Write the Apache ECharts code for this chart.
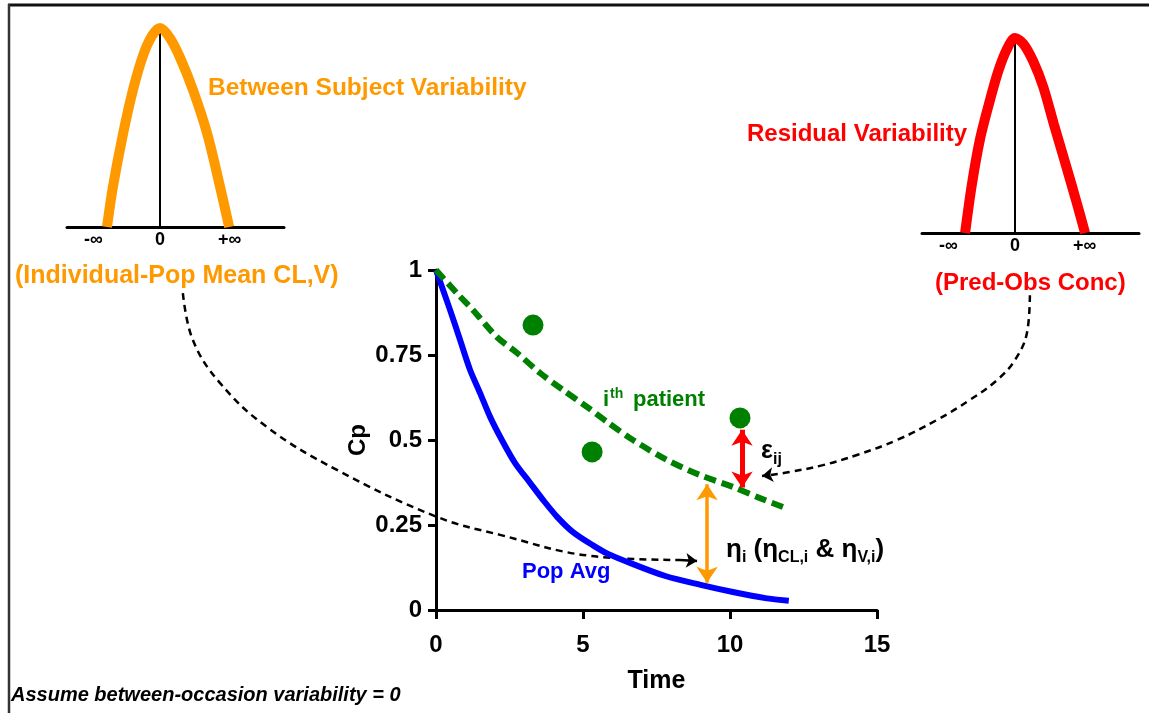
<!DOCTYPE html>
<html>
<head>
<meta charset="utf-8">
<script src="https://cdn.jsdelivr.net/npm/echarts@6/dist/echarts.min.js"></script>
<style>
html,body{margin:0;padding:0;background:#fff;}
#chart{width:1149px;height:713px;}
</style>
</head>
<body>
<div id="chart"></div>
<script>
// ---------- Data ----------
// Main plot: concentration (Cp) vs Time
const popAvgTime = [0, 0.48, 0.82, 1.16, 1.5, 1.84, 2.24, 2.69, 3.2, 3.64, 4.12, 4.66, 5.34, 5.85, 6.7, 7.8, 9.0, 10.1, 11.2, 12.0];
const popAvgCp   = [1, 0.882, 0.794, 0.706, 0.638, 0.568, 0.5, 0.432, 0.374, 0.324, 0.274, 0.229, 0.19, 0.165, 0.135, 0.1, 0.074, 0.053, 0.035, 0.027];

const patientTime = [0, 0.71, 1.26, 2.07, 2.76, 3.54, 4.32, 5.14, 5.82, 6.7, 7.86, 8.98, 10.1, 11.02, 11.8];
const patientCp   = [1, 0.932, 0.882, 0.803, 0.756, 0.697, 0.647, 0.597, 0.553, 0.5, 0.441, 0.397, 0.362, 0.329, 0.303];

const obsTime = [3.3, 5.31, 10.34];
const obsCp   = [0.838, 0.465, 0.565];

// Variability arrows (time, Cp from, Cp to)
const epsArrow = [10.41, 0.53, 0.36];
const etaArrow = [9.22, 0.37, 0.08];

// Dashed connector curves (in main-plot Time / Cp units)
const bsvConnTime = [-8.61, -8.27, -7.35, -5.75, -3.37, 0.03, 2.18, 5.27, 8.3];
const bsvConnCp   = [0.932, 0.794, 0.668, 0.538, 0.412, 0.274, 0.221, 0.159, 0.147];
const bsvConnTip  = [8.88, 0.144];
const rvConnTime  = [20.2, 20.1, 19.69, 19.08, 18.16, 17.04, 15.68, 14.32, 13.16, 12.04, 11.36];
const rvConnCp    = [0.926, 0.815, 0.735, 0.676, 0.618, 0.559, 0.5, 0.456, 0.426, 0.406, 0.397];
const rvConnTip   = [11.09, 0.394];

// Bell curves (x in sd-like units, y relative to peak)
const bsvBellX = [-1.71, -1.52, -1.19, -0.87, -0.55, -0.26, 0, 0.32, 0.65, 1.06, 1.52, 1.94, 2.23];
const bsvBellY = [0, 0.20, 0.47, 0.69, 0.86, 0.96, 1, 0.95, 0.85, 0.69, 0.47, 0.20, 0];
const rvBellX  = [-1.61, -1.40, -1.13, -0.81, -0.54, -0.27, 0, 0.27, 0.59, 0.91, 1.25, 1.62, 2.0, 2.26];
const rvBellY  = [0, 0.24, 0.48, 0.68, 0.83, 0.94, 1, 0.97, 0.88, 0.75, 0.56, 0.36, 0.15, 0];
const bellTickValues = [-2.15, 0, 2.25];
const bellTickLabels = ['-∞', '0', '+∞'];

// Axis ticks
const timeMin = 0, timeMax = 15, timeStep = 5;
const cpMin = 0, cpMax = 1, cpStep = 0.25;

// ---------- Layout ----------
const W = 1149, H = 713;
const MAIN = {left: 436, top: 270, width: 441, height: 340};
const pxPerTime = MAIN.width / (timeMax - timeMin);
const pxPerCp = MAIN.height / (cpMax - cpMin);
// overlay grid sharing the main plot's scale, covering the whole canvas
const ovXMin = timeMin - MAIN.left / pxPerTime;
const ovXMax = timeMin + (W - MAIN.left) / pxPerTime;
const ovYMin = cpMin - (H - MAIN.top - MAIN.height) / pxPerCp;
const ovYMax = cpMin + (MAIN.top + MAIN.height) / pxPerCp;

// ---------- Helpers ----------
const zip = (a, b) => a.map((v, i) => [v, b[i]]);
const FONT = 'Liberation Sans';
const ORANGE = '#ff9900', RED = '#ff0000', GREEN = '#008000', BLUE = '#0000ff';

const chart = echarts.init(document.getElementById('chart'), null, {renderer: 'canvas'});

function bellAxisLabel(v) {
  const i = bellTickValues.indexOf(v);
  return i >= 0 ? bellTickLabels[i] : '';
}
function txt(x, y, text, color, size, extra) {
  return Object.assign({type: 'text', x: x, y: y, style: {
    text: text, fill: color, fontFamily: FONT, fontWeight: 'bold', fontSize: size,
    textVerticalAlign: 'middle', verticalAlign: 'middle'
  }}, extra || {});
}

const hiddenAxis = {show: false, axisLine: {show: false}, axisTick: {show: false}, axisLabel: {show: false}, splitLine: {show: false}};

const option = {
  animation: false,
  backgroundColor: '#ffffff',
  textStyle: {fontFamily: FONT},
  grid: [
    MAIN,                                             // main
    {left: 67, top: 28, width: 217, height: 199},     // BSV bell
    {left: 922, top: 38, width: 217, height: 195},    // RV bell
    {left: 0, top: 0, width: W, height: H}            // overlay for connectors
  ],
  xAxis: [
    {
      gridIndex: 0, type: 'value', min: timeMin, max: timeMax, interval: timeStep,
      name: 'Time', nameLocation: 'middle', nameGap: 59,
      nameTextStyle: {fontFamily: FONT, fontWeight: 'bold', fontSize: 25, color: '#000'},
      axisLine: {onZero: false, lineStyle: {color: '#000', width: 3}},
      axisTick: {show: true, inside: false, length: 9, lineStyle: {color: '#000', width: 3}},
      axisLabel: {fontFamily: FONT, fontWeight: 'bold', fontSize: 24, color: '#000', margin: 23},
      splitLine: {show: false}
    },
    {
      gridIndex: 1, type: 'value', min: -3, max: 4,
      axisLine: {onZero: false, lineStyle: {color: '#000', width: 3}},
      axisTick: {show: false},
      axisLabel: {customValues: bellTickValues, formatter: bellAxisLabel, fontFamily: FONT, fontWeight: 'bold', fontSize: 18, color: '#000', margin: 4},
      splitLine: {show: false}
    },
    {
      gridIndex: 2, type: 'value', min: -3, max: 4,
      axisLine: {onZero: false, lineStyle: {color: '#000', width: 3}},
      axisTick: {show: false},
      axisLabel: {customValues: bellTickValues, formatter: bellAxisLabel, fontFamily: FONT, fontWeight: 'bold', fontSize: 18, color: '#000', margin: 4},
      splitLine: {show: false}
    },
    Object.assign({gridIndex: 3, type: 'value', min: ovXMin, max: ovXMax}, hiddenAxis)
  ],
  yAxis: [
    {
      gridIndex: 0, type: 'value', min: cpMin, max: cpMax, interval: cpStep,
      name: 'Cp', nameLocation: 'middle', nameGap: 66,
      nameTextStyle: {fontFamily: FONT, fontWeight: 'bold', fontSize: 24, color: '#000'},
      axisLine: {show: true, onZero: false, lineStyle: {color: '#000', width: 3}},
      axisTick: {show: true, inside: false, length: 8, lineStyle: {color: '#000', width: 3}},
      axisLabel: {fontFamily: FONT, fontWeight: 'bold', fontSize: 24, color: '#000', margin: 14},
      splitLine: {show: false}
    },
    {
      gridIndex: 1, type: 'value', min: 0, max: 1,
      axisLine: {show: true, onZero: true, lineStyle: {color: '#000', width: 2}},
      axisTick: {show: false}, axisLabel: {show: false}, splitLine: {show: false}
    },
    {
      gridIndex: 2, type: 'value', min: 0, max: 1,
      axisLine: {show: true, onZero: true, lineStyle: {color: '#000', width: 2}},
      axisTick: {show: false}, axisLabel: {show: false}, splitLine: {show: false}
    },
    Object.assign({gridIndex: 3, type: 'value', min: ovYMin, max: ovYMax}, hiddenAxis)
  ],
  series: [
    // bells
    {
      type: 'line', xAxisIndex: 1, yAxisIndex: 1, data: zip(bsvBellX, bsvBellY),
      smooth: 0.3, symbol: 'none', clip: false,
      lineStyle: {color: ORANGE, width: 10}, z: 3
    },
    {
      type: 'line', xAxisIndex: 2, yAxisIndex: 2, data: zip(rvBellX, rvBellY),
      smooth: 0.3, symbol: 'none', clip: false,
      lineStyle: {color: RED, width: 10}, z: 3
    },
    // connectors (overlay grid, same scale as main plot)
    {
      type: 'line', xAxisIndex: 3, yAxisIndex: 3, data: zip(bsvConnTime, bsvConnCp),
      smooth: 0.4, symbol: 'none', clip: false,
      lineStyle: {color: '#000', width: 2.5, type: [7, 5]}, z: 2
    },
    {
      type: 'line', xAxisIndex: 3, yAxisIndex: 3, data: zip(rvConnTime, rvConnCp),
      smooth: 0.4, symbol: 'none', clip: false,
      lineStyle: {color: '#000', width: 2.5, type: [7, 5]}, z: 2
    },
    {
      type: 'lines', coordinateSystem: 'cartesian2d', xAxisIndex: 3, yAxisIndex: 3,
      symbol: ['none', 'arrow'], symbolSize: 11,
      lineStyle: {color: '#000', width: 2.5, opacity: 1},
      data: [
        {coords: [[bsvConnTime[bsvConnTime.length - 1], bsvConnCp[bsvConnCp.length - 1]], bsvConnTip]},
        {coords: [[rvConnTime[rvConnTime.length - 1], rvConnCp[rvConnCp.length - 1]], rvConnTip]}
      ], z: 2
    },
    // population average
    {
      type: 'line', xAxisIndex: 0, yAxisIndex: 0, data: zip(popAvgTime, popAvgCp),
      smooth: 0.3, symbol: 'none', lineStyle: {color: BLUE, width: 6}, z: 4
    },
    // i-th patient
    {
      type: 'line', xAxisIndex: 0, yAxisIndex: 0, data: zip(patientTime, patientCp),
      smooth: 0.3, symbol: 'none', lineStyle: {color: GREEN, width: 6, type: [12, 6]}, z: 4
    },
    // observations
    {
      type: 'scatter', xAxisIndex: 0, yAxisIndex: 0, data: zip(obsTime, obsCp),
      symbolSize: 21, itemStyle: {color: GREEN, opacity: 1}, z: 5
    },
    // variability arrows
    {
      type: 'lines', coordinateSystem: 'cartesian2d', xAxisIndex: 0, yAxisIndex: 0,
      symbol: ['arrow', 'arrow'], symbolSize: 16,
      lineStyle: {color: RED, width: 5, opacity: 1},
      data: [{coords: [[epsArrow[0], epsArrow[1]], [epsArrow[0], epsArrow[2]]]}], z: 6
    },
    {
      type: 'lines', coordinateSystem: 'cartesian2d', xAxisIndex: 0, yAxisIndex: 0,
      symbol: ['arrow', 'arrow'], symbolSize: 16,
      lineStyle: {color: ORANGE, width: 3.5, opacity: 1},
      data: [{coords: [[etaArrow[0], etaArrow[1]], [etaArrow[0], etaArrow[2]]]}], z: 6
    }
  ],
  graphic: [
    // frame
    {type: 'line', shape: {x1: 8, y1: 5, x2: W, y2: 5}, style: {stroke: '#111', lineWidth: 3}},
    {type: 'line', shape: {x1: 9, y1: 4, x2: 9, y2: H}, style: {stroke: '#333', lineWidth: 2.5}},
    // titles
    txt(208, 88, 'Between Subject Variability', ORANGE, 24.5),
    txt(15, 276, '(Individual-Pop Mean CL,V)', ORANGE, 25),
    txt(747, 134, 'Residual Variability', RED, 24),
    txt(935, 283, '(Pred-Obs Conc)', RED, 24),
    // in-plot labels
    txt(522, 572, 'Pop Avg', BLUE, 22),
    txt(603, 400, 'i', GREEN, 22),
    txt(610, 394, 'th', GREEN, 14),
    txt(633, 400, 'patient', GREEN, 22),
    txt(761, 451, 'ε', '#000', 25),
    txt(773, 460, 'ij', '#000', 16),
    {type: 'text', x: 726, y: 550, style: {
      text: '{m|η}{s|i}{m| (η}{s|CL,i}{m| & η}{s|V,i}{m|)}',
      fontFamily: FONT, fontWeight: 'bold', fill: '#000', textVerticalAlign: 'middle', verticalAlign: 'middle',
      rich: {
        m: {fontFamily: FONT, fontWeight: 'bold', fontSize: 26, lineHeight: 32, fill: '#000', verticalAlign: 'middle'},
        s: {fontFamily: FONT, fontWeight: 'bold', fontSize: 16, lineHeight: 16, fill: '#000', verticalAlign: 'bottom'}
      }
    }},
    // footnote
    {type: 'text', x: 11, y: 695, style: {text: 'Assume between-occasion variability = 0', fill: '#000', fontFamily: FONT, fontStyle: 'italic', fontWeight: 'bold', fontSize: 20, textVerticalAlign: 'middle', verticalAlign: 'middle'}}
  ]
};

chart.setOption(option);
</script>
</body>
</html>
